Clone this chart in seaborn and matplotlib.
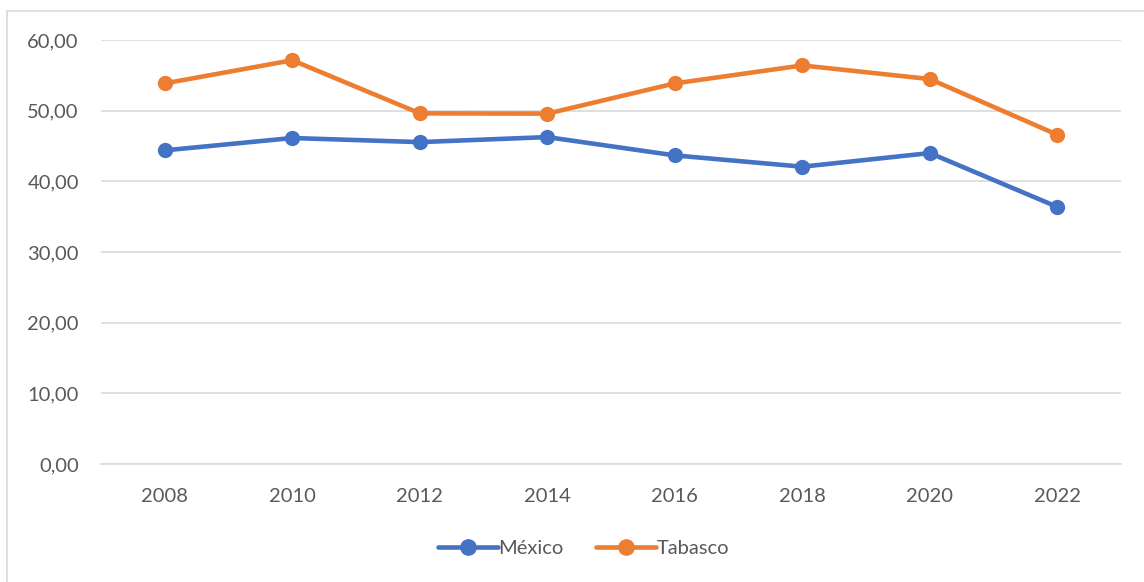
import pandas as pd
import matplotlib.pyplot as plt
import seaborn as sns
from matplotlib.patches import Rectangle

# datos
anios = ['2008', '2010', '2012', '2014', '2016', '2018', '2020', '2022']
mexico = [44.38, 46.13, 45.55, 46.26, 43.67, 42.07, 44.00, 36.38]
tabasco = [53.86, 57.13, 49.62, 49.58, 53.86, 56.40, 54.47, 46.59]

df = pd.DataFrame({'anio': anios * 2,
                   'valor': mexico + tabasco,
                   'serie': ['México'] * len(anios) + ['Tabasco'] * len(anios)})

sns.set_style('white')
plt.rcParams['font.family'] = ['Lato', 'DejaVu Sans']

fig = plt.figure(figsize=(11.44, 5.82), dpi=100)
ax = fig.add_axes([0.0883, 0.2027, 0.8917, 0.7286])

sns.lineplot(data=df, x='anio', y='valor', hue='serie',
             palette={'México': '#4472C4', 'Tabasco': '#ED7D31'},
             marker='o', markersize=11, markeredgewidth=0,
             linewidth=3.3, ax=ax, legend=False)

ax.set_ylim(0, 60)
ax.set_xlim(-0.5, len(anios) - 0.5)
ax.set_yticks(range(0, 61, 10))
ax.set_yticklabels([f'{v},00' for v in range(0, 61, 10)])
ax.yaxis.grid(True, color='#D9D9D9', linewidth=1.2)
ax.set_axisbelow(True)
ax.set_xlabel('')
ax.set_ylabel('')
for s in ['top', 'right', 'left']:
    ax.spines[s].set_visible(False)
ax.spines['bottom'].set_color('#D9D9D9')
ax.spines['bottom'].set_linewidth(1.2)
ax.tick_params(axis='both', length=0, labelsize=14.5, colors='#595959')
ax.tick_params(axis='x', pad=17)
ax.tick_params(axis='y', pad=16)

handles = [plt.Line2D([], [], color=c, linewidth=3.3, marker='o', markersize=11)
           for c in ['#4472C4', '#ED7D31']]
fig.legend(handles, ['México', 'Tabasco'], loc='center', bbox_to_anchor=(0.51, 0.057),
           ncol=2, frameon=False, fontsize=14.5, labelcolor='#595959',
           handlelength=3.0, handletextpad=0.0, columnspacing=1.6)

# borde del gráfico
fig.patches.append(Rectangle((7 / 1144, -0.01), 1.1, 1 - 11 / 582 + 0.01,
                             transform=fig.transFigure, fill=False,
                             edgecolor='#D9D9D9', linewidth=1.2))

fig.savefig('out.png', dpi=100)
